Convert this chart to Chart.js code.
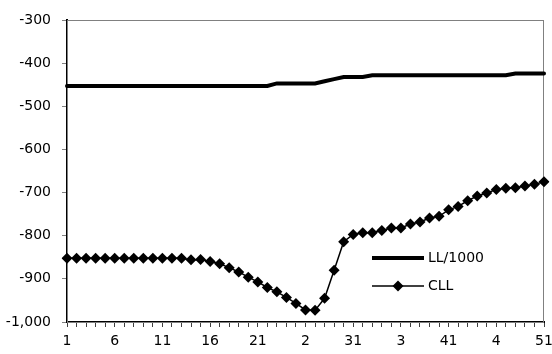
<!DOCTYPE html>
<html>
<head>
<meta charset="utf-8">
<script src="https://cdn.jsdelivr.net/npm/chart.js@4"></script>
<style>
html,body{margin:0;padding:0;background:#fff;}
#wrap{width:552px;height:354px;}
</style>
</head>
<body>
<div id="wrap"><canvas id="c" width="552" height="354"></canvas></div>
<script>
// categories along the bottom
const categories = ['1','2','3','4','5','6','7','8','9','10','11','12','13','14','15','16','17','18','19','20',
  '21','22','23','24','25','26','27','28','29','30','31','32','33','34','35','36','37','38','39','40',
  '41','42','43','44','45','46','47','48','49','50','51'];
// labels shown every 5th category (as printed in the original)
const xTickLabels = ['1','6','11','16','21','2','31','3','41','4','51'];
const yTicks = [-300,-400,-500,-600,-700,-800,-900,-1000];

// LL/1000 series
const llValues = [-453,-453,-453,-453,-453,-453,-453,-453,-453,-453,
  -453,-453,-453,-453,-453,-453,-453,-453,-453,-453,
  -453,-453,-447,-447,-447,-447,-447,-442,-437,-432,
  -432,-432,-428,-428,-428,-428,-428,-428,-428,-428,
  -428,-428,-428,-428,-428,-428,-428,-424,-424,-424,-424];
// CLL series
const cllValues = [-852,-852,-852,-852,-852,-852,-852,-852,-852,-852,
  -852,-852,-852,-856,-855,-860,-865,-874,-884,-896,
  -907,-920,-930,-943,-957,-972,-973,-945,-880,-814,
  -797,-793,-793,-788,-782,-782,-773,-768,-759,-755,
  -740,-732,-719,-708,-701,-693,-690,-689,-685,-681,-675];

const FONT = 'DejaVu Sans';

// gray frame round the plot (top and right edges)
const framePlugin = {
  id:'frame',
  beforeDatasetsDraw(chart){
    const a=chart.chartArea, c=chart.ctx;
    c.save();
    c.strokeStyle='#808080'; c.lineWidth=1;
    c.strokeRect(a.left+0.5,a.top+0.5,a.right-a.left-1,a.bottom-a.top);
    c.restore();
  }
};

// legend inside the plot area
const legendPlugin = {
  id:'innerLegend',
  afterDraw(chart){
    const a=chart.chartArea, c=chart.ctx;
    const x0=a.left+305, x1=x0+52, tx=x1+4;
    const rows=[a.top+238, a.top+266];
    c.save();
    c.font='14px "'+FONT+'"';
    c.textBaseline='middle';
    c.fillStyle='#000';
    chart.data.datasets.forEach((ds,i)=>{
      const y=rows[i];
      c.strokeStyle=ds.borderColor; c.lineWidth=ds.borderWidth;
      c.beginPath(); c.moveTo(x0,y); c.lineTo(x1,y); c.stroke();
      if(ds.pointRadius>0){
        const r=ds.pointRadius, xm=(x0+x1)/2;
        c.beginPath(); c.moveTo(xm,y-r); c.lineTo(xm+r,y); c.lineTo(xm,y+r); c.lineTo(xm-r,y); c.closePath();
        c.fillStyle=ds.pointBackgroundColor; c.fill();
        c.fillStyle='#000';
      }
      c.fillText(ds.label,tx,y);
    });
    c.restore();
  }
};

const ctx=document.getElementById('c').getContext('2d');
new Chart(ctx,{
  type:'line',
  data:{
    labels:categories,
    datasets:[
      {label:'LL/1000',data:llValues,borderColor:'#000',borderWidth:4,pointRadius:0,tension:0,borderCapStyle:'round'},
      {label:'CLL',data:cllValues,borderColor:'#000',borderWidth:1.5,pointStyle:'rectRot',pointRadius:5.5,
        pointBackgroundColor:'#000',pointBorderColor:'#000',pointBorderWidth:0,tension:0}
    ]
  },
  options:{
    responsive:false,animation:false,
    layout:{padding:{top:20,right:8,left:0,bottom:0}},
    plugins:{legend:{display:false},tooltip:{enabled:false}},
    scales:{
      x:{
        type:'category',offset:false,
        border:{display:true,color:'#000',width:2},
        grid:{display:true,drawOnChartArea:false,drawTicks:true,tickLength:5,color:'#404040',tickWidth:1},
        ticks:{autoSkip:false,maxRotation:0,minRotation:0,padding:6,color:'#000',font:{family:FONT,size:14},
          callback:(v,i)=>i%5===0?xTickLabels[i/5]:''},
        afterFit(s){s.height=32;s.paddingLeft=0;s.paddingRight=0;}
      },
      y:{
        min:-1000,max:-300,
        border:{display:true,color:'#000',width:2},
        grid:{display:true,drawOnChartArea:false,drawTicks:true,tickLength:5,color:'#808080'},
        afterBuildTicks(s){s.ticks=yTicks.map(v=>({value:v}));},
        ticks:{padding:11,color:'#000',font:{family:FONT,size:14}},
        afterFit(s){s.width=67;s.paddingTop=0;s.paddingBottom=0;}
      }
    }
  },
  plugins:[framePlugin,legendPlugin]
});
</script>
</body>
</html>
